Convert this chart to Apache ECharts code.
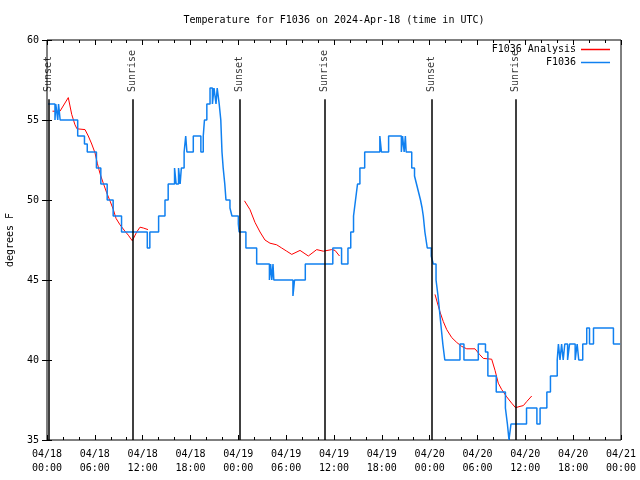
<!DOCTYPE html>
<html><head><meta charset="utf-8">
<script src="https://cdn.jsdelivr.net/npm/echarts@6/dist/echarts.min.js"></script>
<style>html,body{margin:0;padding:0;background:#fff}#c{width:640px;height:480px}</style>
</head><body><div id="c"></div><script>
const FONT = '"DejaVu Sans Mono", "Liberation Mono", monospace';
const chartTitle = 'Temperature for F1036 on 2024-Apr-18 (time in UTC)';
const xTickLabels = ['04/18\n00:00','04/18\n06:00','04/18\n12:00','04/18\n18:00','04/19\n00:00','04/19\n06:00','04/19\n12:00','04/19\n18:00','04/20\n00:00','04/20\n06:00','04/20\n12:00','04/20\n18:00','04/21\n00:00'];
const yTicks = [35, 40, 45, 50, 55, 60];

// hours since 04/18 00:00 UTC
const obsHours = [0.13,1.0,1.1,1.35,1.45,1.65,3.85,4.7,5.05,6.2,6.75,7.55,8.3,9.35,12.58,12.9,14.0,14.8,15.2,16.0,16.2,16.5,16.7,16.85,17.2,17.4,17.55,18.35,19.3,19.6,19.75,20.05,20.45,20.75,20.95,21.2,21.35,21.6,21.8,21.95,22.1,22.3,22.45,22.95,23.2,24.0,24.1,24.95,26.3,27.9,28.05,28.2,28.35,28.45,30.85,31.05,32.4,35.85,36.95,37.75,38.1,38.45,38.7,38.95,39.25,39.85,41.75,41.95,42.85,44.45,44.6,44.8,44.95,45.05,45.75,46.1,46.35,46.6,46.85,47.05,47.2,47.4,47.55,47.7,48.2,48.45,48.8,49.05,49.25,49.45,49.65,49.9,51.8,52.3,54.1,55.0,55.3,56.35,57.5,57.75,57.95,58.2,60.15,61.45,61.85,62.7,63.15,64.0,64.15,64.35,64.55,64.75,64.95,65.3,65.55,66.25,66.5,66.7,67.2,67.7,68.05,68.55,71.05,71.9];
const obsTemps = [56,55,56,55,56,55,54,53.5,53,52,51,50,49,48,47,48,49,50,51,52,51,52,51,52,53,54,53,54,53,54,55,56,57,56,57,56,57,56,55,53,52,51,50,49.5,49,48.5,48,47,46,45,46,45,46,45,44,45,46,47,46,47,48,49,50,51,52,53,54,53,54,53,54,53,54,53,52,51.5,51,50.5,50,49.5,49,48,47.5,47,46.5,46,45,44,43,42,41,40,41,40,41,40.5,39,38,37,36,35,36,37,36,37,38,39,40,41,40,41,40,41,40,41,40,41,40,41,42,41,42,41,41];

// analysis line; null marks a gap
const anaHours = [0.69,1.63,2.67,3.1,3.51,3.76,4.77,5.18,5.61,6.02,6.31,6.65,7.06,7.49,7.9,8.32,8.66,9.16,9.78,10.2,10.7,11.25,11.67,12.08,12.67,
  18.0,
  24.77,25.46,26.09,26.72,27.34,27.97,28.81,29.44,30.07,30.7,31.74,32.78,33.83,34.66,35.71,36.13,36.69,
  42.0,
  48.67,49.01,49.3,49.71,50.14,50.77,51.39,52.02,52.65,53.69,54.25,54.73,55.78,56.2,56.61,57.04,57.66,58.29,58.77,59.33,59.75,60.17,60.8];
const anaTemps = [55.55,55.55,56.4,55.35,54.7,54.45,54.4,54.0,53.5,52.95,52.3,51.65,51.05,50.45,49.95,49.4,48.85,48.45,48.05,47.8,47.45,48.0,48.3,48.25,48.15,
  null,
  49.95,49.4,48.6,48.0,47.5,47.3,47.2,47.0,46.8,46.6,46.85,46.5,46.9,46.8,46.9,46.85,46.5,
  null,
  44.1,43.5,43.0,42.4,41.9,41.4,41.1,40.85,40.7,40.7,40.35,40.1,40.05,39.35,38.55,38.15,37.7,37.3,37.02,37.1,37.15,37.4,37.75];

const eventHours = [0.17, 10.72, 24.12, 34.79, 48.25, 58.79];
const eventNames = ['Sunset','Sunrise','Sunset','Sunrise','Sunset','Sunrise'];
const eventLineTop = 56.3;
const eventLabelAt = 56.75;

const chart = echarts.init(document.getElementById('c'), null, {renderer: 'canvas'});
const txt = {fontFamily: FONT, fontSize: 10, color: '#000'};
const tickStyle = {color: '#000', width: 1};

const option = {
  animation: false,
  backgroundColor: '#fff',
  textStyle: txt,
  title: {
    text: chartTitle, left: 334, top: 15, padding: 0, textAlign: 'center',
    textStyle: Object.assign({fontWeight: 'normal'}, txt)
  },
  legend: {
    orient: 'vertical', right: 30, top: 43, padding: 0, itemGap: 0,
    align: 'right', itemWidth: 29, itemHeight: 1.5,
    textStyle: Object.assign({lineHeight: 13}, txt),
    data: [{name: 'F1036 Analysis', icon: 'rect'}, {name: 'F1036', icon: 'rect'}]
  },
  grid: {left: 47, right: 19, top: 40, bottom: 40, containLabel: false, outerBoundsMode: 'none',
         show: true, borderColor: '#000', borderWidth: 1, backgroundColor: 'transparent'},
  xAxis: [
    {type: 'value', min: 0, max: 72, interval: 6, position: 'bottom',
     axisLine: {show: false}, splitLine: {show: false},
     axisTick: {show: true, inside: true, length: 5, lineStyle: tickStyle},
     minorTick: {show: true, splitNumber: 3, length: 3, lineStyle: tickStyle},
     axisLabel: Object.assign({formatter: v => xTickLabels[Math.round(v / 6)], margin: 7, lineHeight: 14}, txt)},
    {type: 'value', min: 0, max: 72, interval: 6, position: 'top',
     axisLine: {show: false}, splitLine: {show: false},
     axisTick: {show: true, inside: true, length: 5, lineStyle: tickStyle},
     minorTick: {show: true, splitNumber: 3, length: 3, lineStyle: tickStyle},
     axisLabel: {show: false}}
  ],
  yAxis: [
    {type: 'value', min: yTicks[0], max: yTicks[yTicks.length - 1], interval: 5, position: 'left',
     name: 'degrees F', nameLocation: 'middle', nameGap: 32, nameRotate: 90, nameTextStyle: txt,
     axisLine: {show: false}, splitLine: {show: false},
     axisTick: {show: true, inside: true, length: 5, lineStyle: tickStyle},
     axisLabel: Object.assign({margin: 8}, txt)},
    {type: 'value', min: yTicks[0], max: yTicks[yTicks.length - 1], interval: 5, position: 'right',
     axisLine: {show: false}, splitLine: {show: false},
     axisTick: {show: true, inside: true, length: 5, lineStyle: tickStyle},
     axisLabel: {show: false}}
  ],
  series: [
    {name: 'F1036 Analysis', type: 'line', symbol: 'none', showSymbol: false, connectNulls: false,
     itemStyle: {color: '#ff0000'}, lineStyle: {color: '#ff0000', width: 1},
     data: anaHours.map((h, i) => [h, anaTemps[i] === null ? '-' : anaTemps[i]])},
    {name: 'F1036', type: 'line', step: 'end', symbol: 'none', showSymbol: false,
     itemStyle: {color: '#1080f0'}, lineStyle: {color: '#1080f0', width: 1.5},
     data: obsHours.map((h, i) => [h, obsTemps[i]])},
    {name: 'events', type: 'scatter', symbolSize: 0, silent: true,
     data: eventHours.map((h, i) => [h, eventLabelAt, eventNames[i]]),
     label: Object.assign({show: true, formatter: p => p.data[2], rotate: 90, position: 'inside', align: 'left', verticalAlign: 'middle'}, txt),
     markLine: {silent: true, symbol: ['none', 'none'], animation: false,
       label: {show: false},
       lineStyle: {color: '#000', width: 1.5, type: 'solid'},
       data: eventHours.map(h => [{coord: [h, yTicks[0]]}, {coord: [h, eventLineTop]}])}}
  ]
};
chart.setOption(option);
</script></body></html>
